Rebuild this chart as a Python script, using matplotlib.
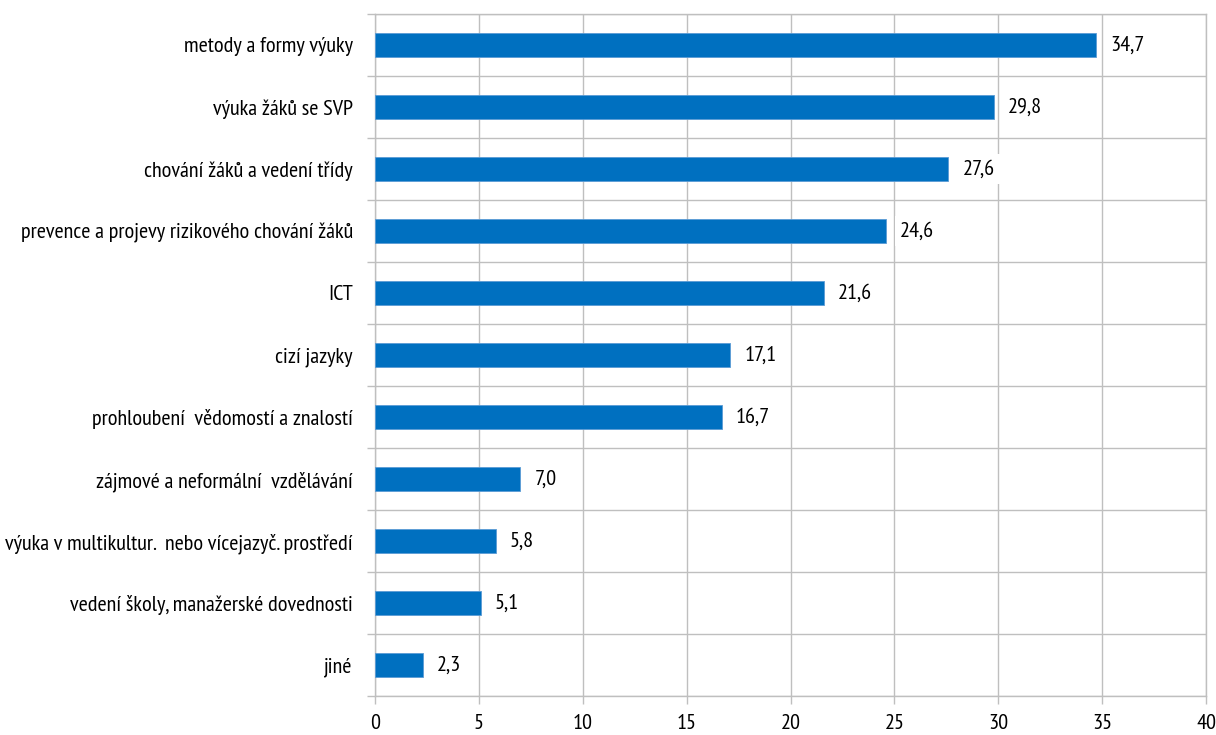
import matplotlib
matplotlib.use("Agg")
import matplotlib.pyplot as plt

categories = [
    "metody a formy výuky",
    "výuka žáků se SVP",
    "chování žáků a vedení třídy",
    "prevence a projevy rizikového chování žáků",
    "ICT",
    "cizí jazyky",
    "prohloubení  vědomostí a znalostí",
    "zájmové a neformální  vzdělávání",
    "výuka v multikultur.  nebo vícejazyč. prostředí",
    "vedení školy, manažerské dovednosti",
    "jiné",
]
values = [34.7, 29.8, 27.6, 24.6, 21.6, 17.1, 16.7, 7.0, 5.8, 5.1, 2.3]
xticks = [0, 5, 10, 15, 20, 25, 30, 35, 40]

plt.rcParams['font.family'] = ['PT Sans Narrow', 'DejaVu Sans']

fig = plt.figure(figsize=(12.16, 7.35), dpi=100)
ax = fig.add_axes([0.3084, 0.0531, 0.9918 - 0.3084, 0.981 - 0.0531])

n = len(categories)
ypos = list(range(n))
ax.barh(ypos, values, height=0.38, color="#0070C0", edgecolor="#5B9BD5", linewidth=0.6, zorder=3)

ax.set_ylim(n - 0.5, -0.5)
ax.set_xlim(0, 40)
ax.set_xticks(xticks)
ax.set_xticklabels([str(t) for t in xticks], fontsize=16)
ax.set_yticks(ypos)
ax.set_yticklabels(categories, fontsize=16)
ax.set_yticks([i - 0.5 for i in range(n + 1)], minor=True)
ax.tick_params(axis='y', which='major', length=0, pad=16)
ax.tick_params(axis='y', which='minor', length=6, color="#BFBFBF", width=1)
ax.tick_params(axis='x', which='major', length=6, color="#BFBFBF", width=1, pad=7)

ax.grid(True, axis='x', which='major', color="#BFBFBF", linewidth=1, zorder=0)
ax.grid(True, axis='y', which='minor', color="#BFBFBF", linewidth=1, zorder=0)
for s in ax.spines.values():
    s.set_color("#BFBFBF")
    s.set_linewidth(1)

for y, v in zip(ypos, values):
    ax.annotate(f"{v:.1f}".replace(".", ","), xy=(v, y), xytext=(14, 0),
                textcoords="offset pixels",
                ha="left", va="center", fontsize=16, zorder=4,
                bbox=dict(boxstyle="square,pad=0.25", fc="white", ec="none"))

fig.savefig("out.png", dpi=100)
